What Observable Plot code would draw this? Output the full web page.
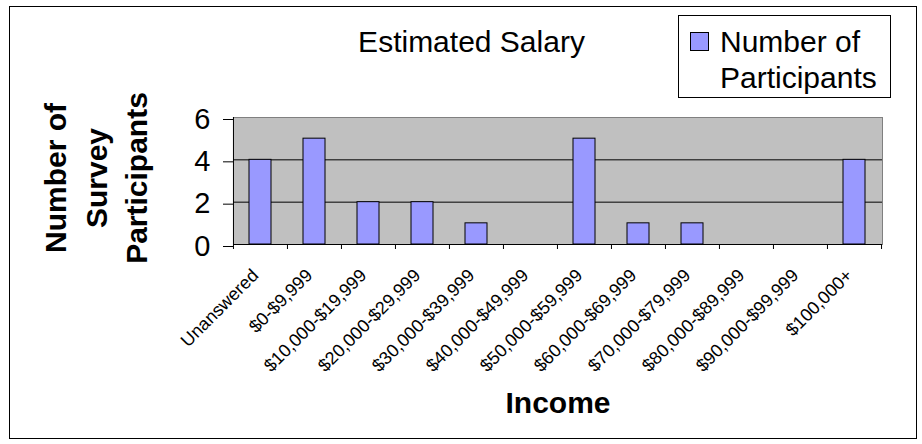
<!DOCTYPE html>
<html>
<head>
<meta charset="utf-8">
<script src="https://cdn.jsdelivr.net/npm/d3@7"></script>
<script src="https://cdn.jsdelivr.net/npm/@observablehq/plot@0.6"></script>
<style>
  html, body { margin: 0; padding: 0; background: #fff; }
  body { font-family: "Liberation Sans", Arial, sans-serif; }
  #wrap { position: relative; width: 922px; height: 444px; }
  #border { position: absolute; left: 9px; top: 6px; width: 906px; height: 431px; border: 1px solid #000; pointer-events: none; }
  #title { position: absolute; left: 471.5px; top: 23.6px; transform: translateX(-50%); font-size: 30px; line-height: 36px; white-space: nowrap; color: #000; }
  #legend { position: absolute; left: 678px; top: 15px; width: 211px; height: 81px; border: 1px solid #000; background: #fff; }
  #legend .sw { position: absolute; left: 11px; top: 16px; width: 17px; height: 17px; border: 1px solid #000; background: #9999FF; }
  #legend .lbl { position: absolute; left: 41px; top: 7.6px; font-size: 30px; line-height: 36px; white-space: nowrap; color: #000; }
</style>
</head>
<body>
<div id="wrap">
  <div id="chart"></div>
  <div id="title">Estimated Salary</div>
  <div id="legend"><div class="sw"></div><div class="lbl">Number of<br>Participants</div></div>
  <div id="border"></div>
</div>
<script>
const categories = ["Unanswered", "$0-$9,999", "$10,000-$19,999", "$20,000-$29,999", "$30,000-$39,999", "$40,000-$49,999", "$50,000-$59,999", "$60,000-$69,999", "$70,000-$79,999", "$80,000-$89,999", "$90,000-$99,999", "$100,000+"];
const participants = [4, 5, 2, 2, 1, 0, 5, 1, 1, 0, 0, 4];
const yTicks = [0, 2, 4, 6];
const gridLines = [2, 4];
const yTitle = "Number of\nSurvey\nParticipants";
const xTitle = "Income";

const data = categories.map((c, i) => ({category: c, value: participants[i]}));

const W = 922, H = 444;
const mL = 233, mR = 40, mT = 117, mB = 200;
const plotW = W - mL - mR, plotH = H - mT - mB;
const step = plotW / categories.length;
const font = '"Liberation Sans", Arial, sans-serif';

const chart = Plot.plot({
  width: W,
  height: H,
  marginLeft: mL,
  marginRight: mR,
  marginTop: mT,
  marginBottom: mB,
  style: {fontFamily: font, color: "#000", background: "transparent", overflow: "visible"},
  x: {domain: categories, paddingInner: 0.59, paddingOuter: 0.295, axis: null},
  y: {domain: [0, 6], axis: null},
  marks: [
    Plot.frame({fill: "#C0C0C0", stroke: "#808080"}),
    Plot.ruleY(gridLines, {stroke: "#000", strokeWidth: 1}),
    Plot.barY(data, {x: "category", y: "value", fill: "#9999FF", stroke: "#000", strokeWidth: 1}),
    Plot.ruleY([0], {stroke: "#000", strokeWidth: 1}),
    Plot.ruleX([categories[0]], {dx: -step / 2, stroke: "#000"}),
    Plot.ruleX(categories, {x: d => d, dx: -step / 2, insetTop: plotH, insetBottom: -5, stroke: "#000"}),
    Plot.ruleX([categories[categories.length - 1]], {x: d => d, dx: step / 2, insetTop: plotH, insetBottom: -5, stroke: "#000"}),
    Plot.axisY(yTicks, {tickSize: 10, tickPadding: 13, fontSize: 29, label: null, stroke: "#000", fill: "#000", dy: 2}),
    Plot.text(categories, {x: d => d, text: d => d, frameAnchor: "bottom", rotate: -45, textAnchor: "end", lineAnchor: "bottom", dx: -1, dy: 32, fontSize: 18, fill: "#000"}),
    Plot.text([yTitle], {text: d => d, frameAnchor: "left", rotate: -90, textAnchor: "middle", lineAnchor: "middle", lineHeight: 1.35, fontSize: 30, fontWeight: "bold", dx: -139.5, dy: -3, fill: "#000"}),
    Plot.text([xTitle], {text: d => d, frameAnchor: "bottom", lineAnchor: "bottom", dy: 168, fontSize: 30, fontWeight: "bold", fill: "#000"})
  ]
});
document.getElementById("chart").appendChild(chart);
</script>
</body>
</html>
